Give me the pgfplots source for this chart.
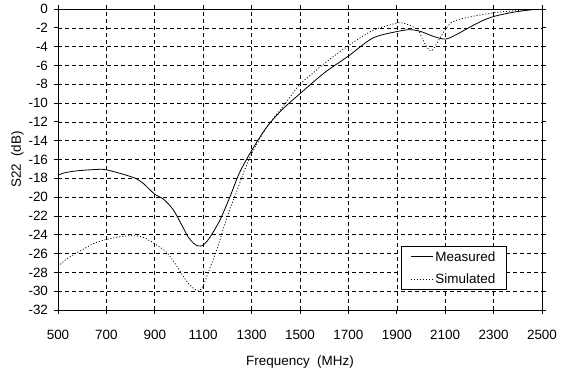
\documentclass[border=0pt]{standalone}
\usepackage{fontspec}
\setmainfont{Liberation Sans}
\usepackage{pgfplots}
\pgfplotsset{compat=1.18}
\begin{document}
\begin{tikzpicture}
\begin{axis}[
  scale only axis, width=484bp, height=301bp,
  xmin=500, xmax=2500, ymin=-32, ymax=0,
  xtick={500,700,...,2500}, ytick={-32,-30,...,0},
  grid=major,
  grid style={black, line width=0.6bp, dash pattern=on 4bp off 3bp},
  axis line style={black, line width=0.8bp},
  tick align=outside, major tick length=4bp,
  tick style={black, line width=0.8bp},
  tick label style={font=\fontsize{13.5}{16}\selectfont},
  /pgf/number format/assume math mode=true,
  xticklabel style={/pgf/number format/1000 sep={}, yshift=-13bp},
  yticklabel style={xshift=-2.5bp},
  label style={font=\fontsize{13.5}{16}\selectfont},
  xlabel={Frequency\ \ (MHz)}, ylabel={S22\ \ (dB)},
  xlabel style={at={(axis description cs:0.5,-0.1728)}, anchor=center},
  ylabel style={at={(axis description cs:-0.0837,0.5)}, anchor=center},
  legend style={at={(0.928,0.066)}, anchor=south east, draw=black, line width=0.8bp,
    font=\fontsize{13.5}{16}\selectfont, inner xsep=9.5bp, inner ysep=3bp, row sep=7bp},
  legend cell align=left,
  legend image code/.code={\draw[#1] (0bp,0bp) -- (22bp,0bp);},
]
\addplot[black, line width=0.8bp, smooth, tension=0.5] coordinates {
(500,-17.65) (530,-17.4) (580,-17.2) (665,-17.05) (700,-17.1) (760,-17.5)
(820,-18.0) (855,-18.6) (900,-19.7) (935,-20.2) (975,-21.3) (1010,-22.9)
(1037,-24.2) (1060,-24.9) (1080,-25.2) (1100,-25.1) (1127,-24.3) (1168,-22.5)
(1210,-20.0) (1250,-17.4) (1290,-15.5) (1330,-13.8) (1370,-12.3) (1430,-10.6)
(1500,-9.0) (1600,-6.8) (1700,-5.0) (1800,-3.1) (1900,-2.4) (1955,-2.2)
(2000,-2.4) (2050,-2.9) (2100,-3.2) (2140,-2.8) (2190,-2.1) (2245,-1.35)
(2300,-0.8) (2380,-0.35) (2450,-0.1) (2500,0)
};
\addlegendentry{Measured}
\addplot[black, line width=0.8bp, dash pattern=on 1bp off 2bp, smooth, tension=0.5] coordinates {
(500,-27.35) (540,-26.5) (600,-25.6) (650,-24.9) (700,-24.5) (760,-24.2)
(800,-24.1) (845,-24.2) (900,-24.95) (950,-25.9) (990,-27.3) (1030,-28.9)
(1065,-29.8) (1083,-29.95) (1100,-29.4) (1127,-27.6) (1160,-25.3) (1200,-22.0)
(1237,-19.5) (1270,-17.2) (1300,-15.4) (1340,-13.5) (1370,-12.3) (1440,-10.0)
(1500,-8.0) (1550,-6.9) (1600,-5.8) (1700,-3.9) (1800,-2.3) (1900,-1.5)
(1925,-1.5) (1960,-1.8) (1990,-2.3) (2010,-3.4) (2035,-4.4) (2050,-4.3)
(2080,-3.0) (2115,-1.7) (2140,-1.25) (2190,-0.9) (2300,-0.4) (2380,-0.2) (2500,0)
};
\addlegendentry{Simulated}
\end{axis}
\pgfresetboundingbox
\path (-58bp,-66bp) rectangle (505bp,310bp);
\end{tikzpicture}
\end{document}
